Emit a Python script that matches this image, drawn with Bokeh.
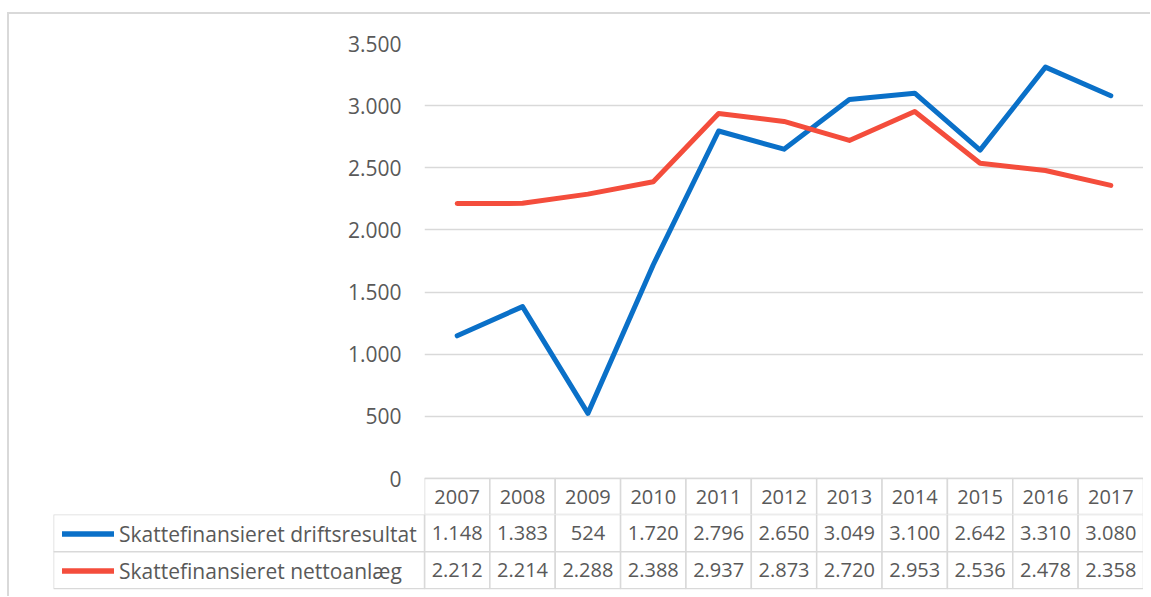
from bokeh.plotting import figure
from bokeh.layouts import column
from bokeh.models import (FactorRange, Range1d, FixedTicker, ColumnDataSource,
                          Legend, LegendItem)
from bokeh.core.properties import value
from bokeh.embed import file_html
from bokeh.resources import INLINE

# ---------------- data ----------------
YEARS = ["2007", "2008", "2009", "2010", "2011", "2012", "2013", "2014", "2015", "2016", "2017"]
DRIFT = [1148, 1383, 524, 1720, 2796, 2650, 3049, 3100, 2642, 3310, 3080]
ANLAEG = [2212, 2214, 2288, 2388, 2937, 2873, 2720, 2953, 2536, 2478, 2358]
SERIES_NAMES = ["Skattefinansieret driftsresultat", "Skattefinansieret nettoanlæg"]
Y_TICKS = [0, 500, 1000, 1500, 2000, 2500, 3000, 3500]

# ---------------- style / layout ----------------
BLUE = "#0A70C8"
RED = "#F44D3C"
GRID = "#D9D9D9"
TXT = "#595959"
FONT = "Open Sans"

W = 1134
PLOT_PX = 435       # pixel height of 0..3500
HEADER_PX = 36      # header row height (years)
TOP_PX = 29
LEFT1 = 415         # left border of the chart figure
LEFT2 = 44          # left border of the table figure
H2 = 76

def fmt(v):
    return f"{v:,}".replace(",", ".")

ymax = Y_TICKS[-1]
y_start = -ymax * HEADER_PX / PLOT_PX

# ---------------- chart figure ----------------
p1 = figure(width=W, height=TOP_PX + PLOT_PX + HEADER_PX,
            x_range=FactorRange(factors=YEARS, range_padding=0),
            y_range=Range1d(y_start, ymax),
            x_axis_location=None, output_backend="svg", toolbar_location=None,
            min_border_left=LEFT1, min_border_right=0, min_border_top=TOP_PX,
            min_border_bottom=0)
p1.frame_align = False
p1.outline_line_color = None
p1.xgrid.grid_line_color = None
p1.ygrid.ticker = FixedTicker(ticks=Y_TICKS)
p1.ygrid.grid_line_color = GRID
p1.ygrid.grid_line_width = 1.5

ax = p1.yaxis[0]
ax.ticker = FixedTicker(ticks=Y_TICKS)
ax.major_label_overrides = {t: fmt(t) for t in Y_TICKS}
ax.axis_line_color = None
ax.major_tick_line_color = None
ax.minor_tick_line_color = None
ax.major_tick_out = 0
ax.major_label_standoff = 23
ax.major_label_text_font = FONT
ax.major_label_text_font_size = "21px"
ax.major_label_text_color = TXT

# header row of the data table (category labels)
hdr = ColumnDataSource(dict(x=YEARS, y=[y_start / 2] * len(YEARS), t=YEARS))
p1.rect(x="x", y="y", width=1, height=-y_start, source=hdr,
        fill_color="white", line_color=GRID, line_width=1.5)
p1.text(x="x", y="y", text="t", source=hdr, text_align="center",
        text_baseline="middle", text_font=value(FONT), text_font_size="20px",
        text_color=TXT)

p1.line(x=YEARS, y=DRIFT, line_color=BLUE, line_width=5,
        line_join="round", line_cap="round")
p1.line(x=YEARS, y=ANLAEG, line_color=RED, line_width=5,
        line_join="round", line_cap="round")

# ---------------- table figure ----------------
n = len(YEARS)
cell_px = (W - LEFT1) / n
legend_cells = (LEFT1 - LEFT2) / cell_px

p2 = figure(width=W, height=H2, x_range=Range1d(-legend_cells, n),
            y_range=Range1d(-0.02, 2), x_axis_location=None, y_axis_location=None,
            output_backend="svg", toolbar_location=None,
            min_border_left=LEFT2, min_border_right=0, min_border_top=0,
            min_border_bottom=1)
p2.frame_align = False
p2.outline_line_color = None
p2.grid.grid_line_color = None

rows = [DRIFT, ANLAEG]
xs, ys, ts = [], [], []
for r, vals in enumerate(rows):
    yc = 1.5 - r
    for i, v in enumerate(vals):
        xs.append(i + 0.5)
        ys.append(yc)
        ts.append(fmt(v))
cells = ColumnDataSource(dict(x=xs, y=ys, t=ts))
p2.rect(x="x", y="y", width=1, height=1, source=cells,
        fill_color="white", line_color=GRID, line_width=1.5)
p2.text(x="x", y="y", text="t", source=cells, text_align="center",
        text_baseline="middle", text_font=value(FONT), text_font_size="20px",
        text_color=TXT)
p2.rect(x=[-legend_cells / 2] * 2, y=[1.5, 0.5], width=legend_cells, height=1,
        fill_color="white", line_color=GRID, line_width=1.5)

nan = float("nan")
r_blue = p2.line(x=[nan, nan], y=[nan, nan], line_color=BLUE, line_width=5.5,
                 line_cap="round")
r_red = p2.line(x=[nan, nan], y=[nan, nan], line_color=RED, line_width=5.5,
                line_cap="round")
leg = Legend(items=[LegendItem(label=SERIES_NAMES[0], renderers=[r_blue]),
                    LegendItem(label=SERIES_NAMES[1], renderers=[r_red])],
             location=(9, 0), orientation="vertical", padding=0, margin=0,
             spacing=0, label_height=37, glyph_height=37, glyph_width=52,
             label_standoff=5, label_text_font=FONT, label_text_font_size="21px",
             label_text_color=TXT, border_line_color=None,
             background_fill_alpha=0)
p2.add_layout(leg)

layout = column(p1, p2, spacing=0,
                styles={"margin-left": "7px", "margin-top": "12px",
                        "padding-right": "7px", "padding-bottom": "6px",
                        "border-left": "2px solid #D9D9D9",
                        "border-top": "2px solid #D9D9D9"})

open("out.html", "w").write(file_html(layout, INLINE))
